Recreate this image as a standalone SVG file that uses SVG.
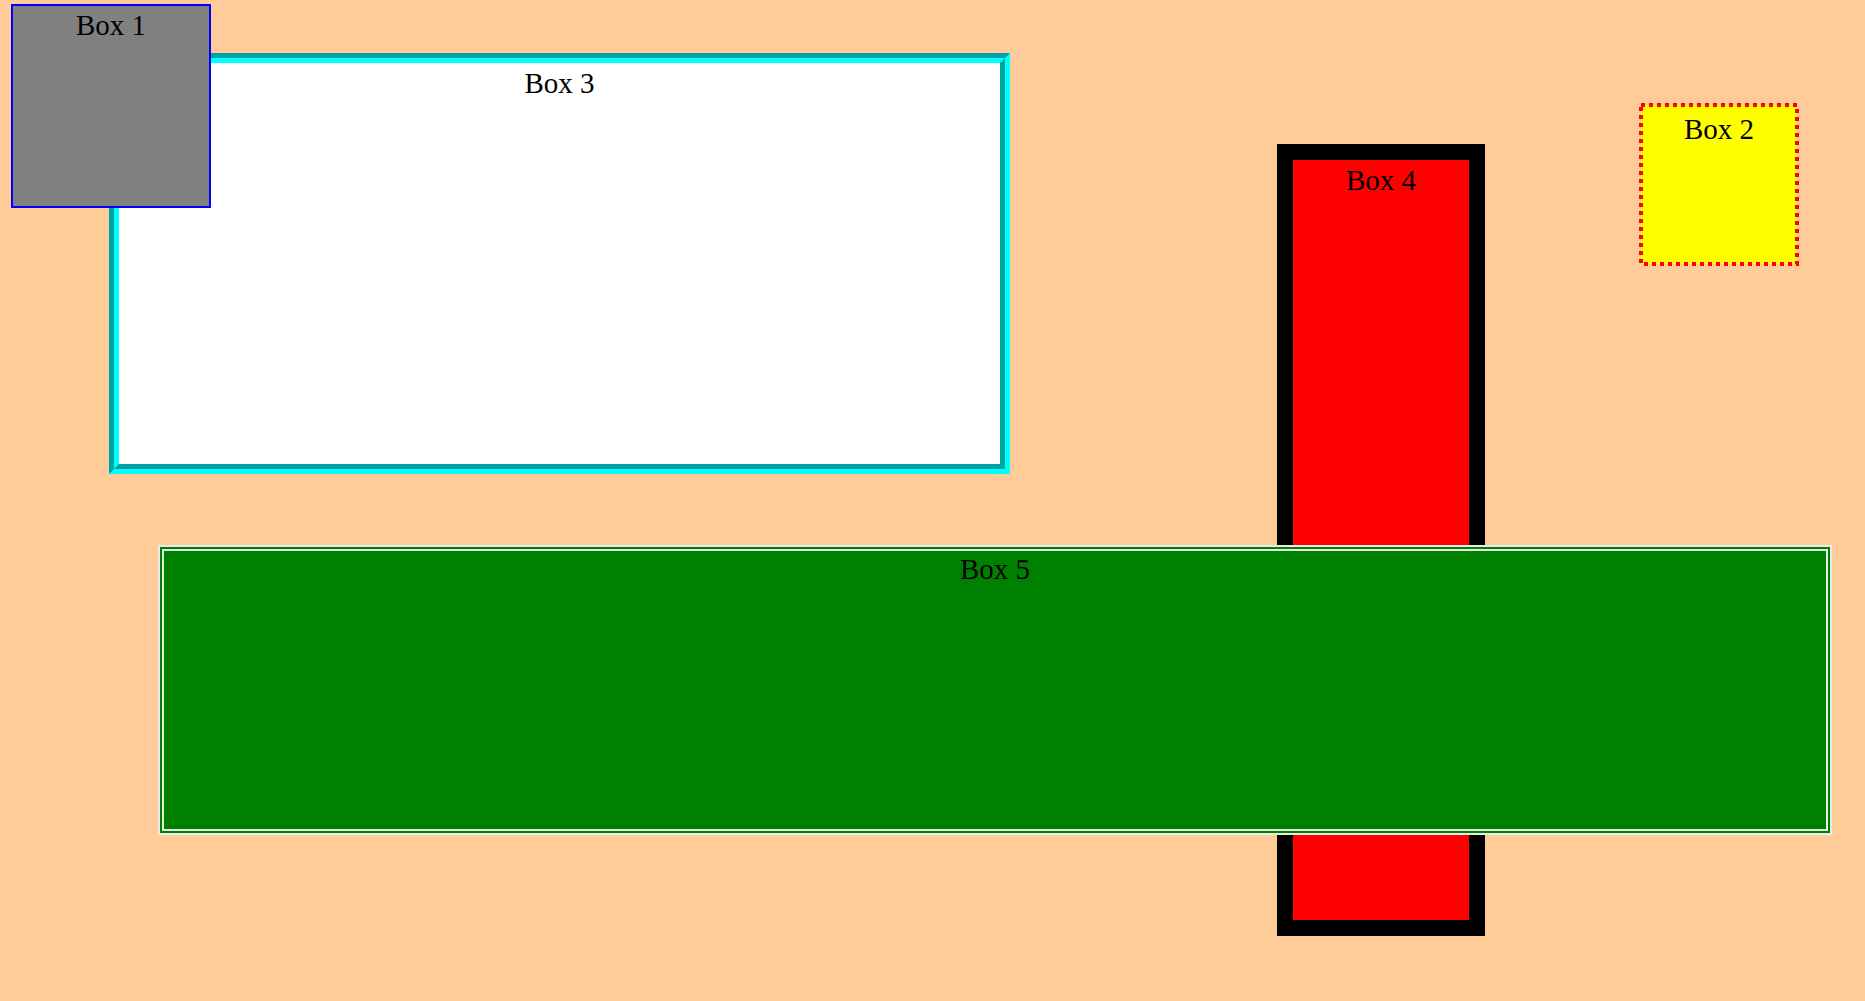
<svg xmlns="http://www.w3.org/2000/svg" width="1865" height="1001" viewBox="0 0 1865 1001">
<style>
.lbl{font-family:"Liberation Serif","Times New Roman",serif;font-size:29px;fill:#000;text-anchor:middle}
.cyanL{fill:#00ffff}
.cyanD{fill:#00a3a3}
</style>
<rect width="1865" height="1001" fill="#ffcc99"/>
<g id="box3">
<rect class="cyanL" x="109" y="53" width="901" height="421"/>
<polygon class="cyanD" points="109,53 1010,53 1005,58 114,58 114,469 109,474"/>
<polygon class="cyanD" points="1005,58 1005,469 114,469 119,464 1000,464 1000,63"/>
<rect x="119" y="63" width="881" height="401" fill="#ffffff"/>
<text class="lbl" x="559.5" y="93">Box 3</text>
</g>
<g id="box1">
<rect x="12" y="5" width="198" height="202" fill="#808080" stroke="#0000ff" stroke-width="2"/>
<text class="lbl" x="111" y="35">Box 1</text>
</g>
<g id="box2">
<rect x="1641" y="105" width="156" height="159" fill="#ffff00" stroke="#ff0000" stroke-width="4" stroke-dasharray="4 4"/>
<text class="lbl" x="1719" y="139">Box 2</text>
</g>
<g id="box4">
<rect x="1285" y="152" width="192" height="776" fill="#ff0000" stroke="#000000" stroke-width="16"/>
<text class="lbl" x="1381" y="190">Box 4</text>
</g>
<g id="box5">
<rect x="158" y="545" width="1674" height="290" fill="#008000"/>
<rect x="159" y="546" width="1672" height="288" fill="none" stroke="#e6ece6" stroke-width="2"/>
<rect x="163" y="550" width="1664" height="280" fill="none" stroke="#e6ece6" stroke-width="2"/>
<text class="lbl" x="995" y="579">Box 5</text>
</g>
<g id="connectors"/>
</svg>
